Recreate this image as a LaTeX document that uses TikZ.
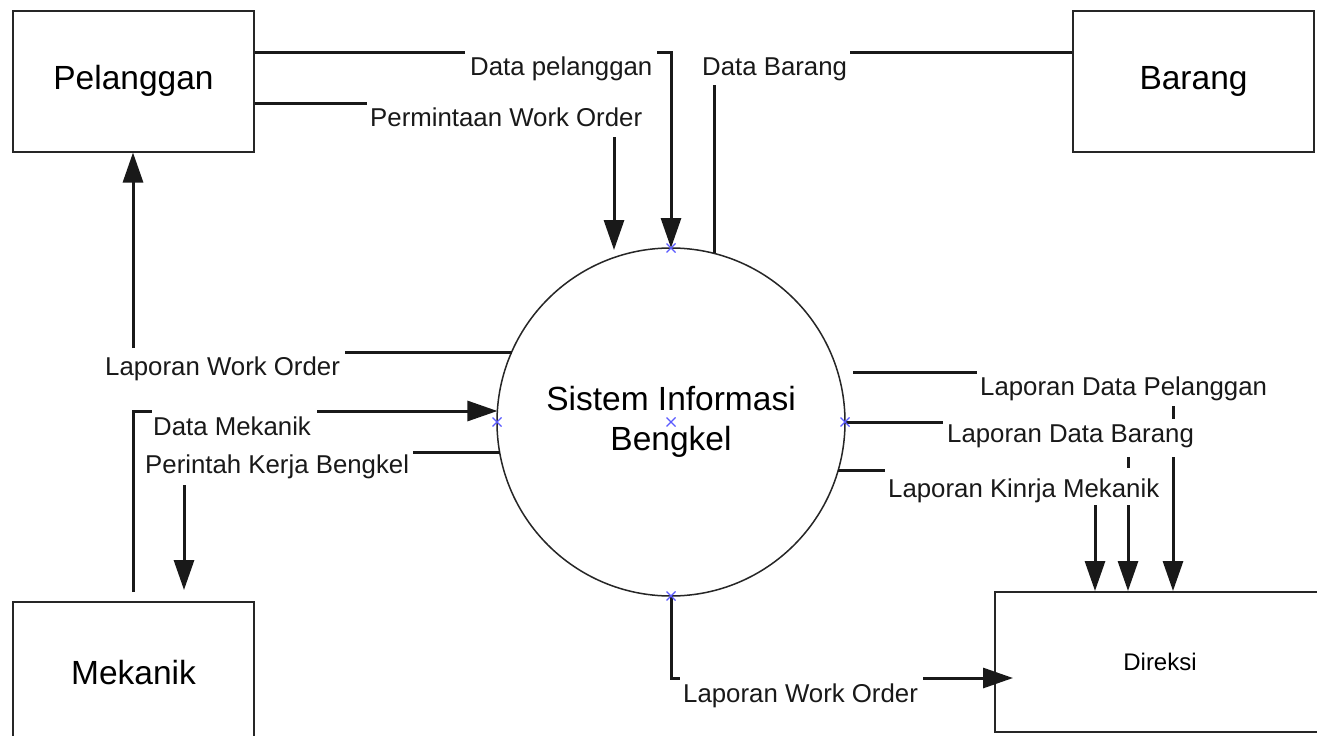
\documentclass[tikz,border=0pt]{standalone}
\usepackage{fontspec}
\setmainfont{Liberation Sans}
\usetikzlibrary{arrows.meta,calc}
\begin{document}
\begin{tikzpicture}[x=1pt,y=-1pt,
  box/.style={draw=black!85, line width=2pt, inner sep=0pt, font=\fontsize{33.5}{40}\selectfont, text=black},
  flow/.style={line width=3pt, draw=black!90},
  arr/.style={flow, -{Triangle[length=30pt,width=20pt]}},
  lbl/.style={anchor=base west, inner sep=0pt, font=\fontsize{25.8}{31}\selectfont, text=black!90},
  xm/.style={draw={rgb,255:red,90;green,90;blue,255}, line width=1.2pt}]
\useasboundingbox (0,0) rectangle (1317,736);
\fill[white] (0,0) rectangle (1317,736);

% entities
\node[box, minimum width=241pt, minimum height=141pt] (pel) at (133.5,81) {Pelanggan};
\node[box, minimum width=241pt, minimum height=141pt] (bar) at (1193.5,81) {Barang};
\node[box, minimum width=241pt, minimum height=141pt] (mek) at (133.5,672.5) {Mekanik};
\node[box, minimum width=330pt, minimum height=140pt, font=\fontsize{24}{29}\selectfont] (dir) at (1160,662) {Direksi};
\node[circle, draw=black!85, line width=1.5pt, minimum size=348pt, inner sep=0pt, outer sep=0pt, align=center,
      font=\fontsize{33.5}{40}\selectfont, text=black] (sys) at (671,422) {Sistem Informasi\\Bengkel};

% labels
\node[lbl] (tDP)   at (470,75)  {Data pelanggan};
\node[lbl] (tPWO)  at (370,126) {Permintaan Work Order};
\node[lbl] (tDB)   at (702,75)  {Data Barang};
\node[lbl] (tLWO1) at (105,375) {Laporan Work Order};
\node[lbl] (tDM)   at (153,435) {Data Mekanik};
\node[lbl] (tPKB)  at (145,473) {Perintah Kerja Bengkel};
\node[lbl] (tLDP)  at (980,395) {Laporan Data Pelanggan};
\node[lbl] (tLDB)  at (947,442) {Laporan Data Barang};
\node[lbl] (tLKM)  at (888,497) {Laporan Kinrja Mekanik};
\node[lbl] (tLWO2) at (683,702) {Laporan Work Order};

% coordinates
\coordinate (dpA) at (465,52);
\coordinate (dpB) at (657,52);
\coordinate (pwA) at (367,103);
\coordinate (pwB) at (614,137);
\coordinate (pwC) at (614,250);
\coordinate (dbA) at (850,52);
\coordinate (dbB) at (714,85);
\coordinate (dbE) at ($(sys.center)+(43,-168.6)$);
\coordinate (lwA) at (345,352);
\coordinate (lwE) at ($(sys.center)+(-159.3,-70)$);
\coordinate (lwB) at (133,348);
\coordinate (dmA) at (152,411);
\coordinate (dmB) at (317,411);
\coordinate (dmC) at (133,592);
\coordinate (dmE) at ($(sys.center)+(-173.6,-11)$);
\coordinate (pkA) at (413,452);
\coordinate (pkE) at ($(sys.center)+(-171.4,30)$);
\coordinate (pkB) at (184,485);
\coordinate (pkC) at (184,590);
\coordinate (ldpA) at (853,372);
\coordinate (ldpB) at (977,372);
\coordinate (ldpT1) at (1173,406);
\coordinate (ldpT2) at (1173,419);
\coordinate (ldpC) at (1173,457);
\coordinate (ldbA) at (943,422);
\coordinate (ldbT1) at (1128,457);
\coordinate (ldbT2) at (1128,468);
\coordinate (ldbC) at (1128,505);
\coordinate (lkA) at (885,470);
\coordinate (lkE) at ($(sys.center)+(167.2,48)$);
\coordinate (lkC) at (1095,505);
\coordinate (bwA) at (680,678);
\coordinate (bwB) at (923,678);
\coordinate (bwC) at (1013,678);

% Data pelanggan
\draw[flow] (pel.east |- dpA) -- (dpA);
\draw[arr] (dpB) -- (sys.north |- dpB) -- (sys.north);
% Permintaan Work Order
\draw[flow] (pel.east |- pwA) -- (pwA);
\draw[arr] (pwB) -- (pwC);
% Data Barang
\draw[flow] (bar.west |- dbA) -- (dbA);
\draw[flow] (dbB) -- (dbE);
% Laporan Work Order (to Pelanggan)
\draw[flow] (lwE) -- (lwA);
\draw[arr] (lwB) -- (lwB |- pel.south);
% Data Mekanik
\draw[flow] (dmC) -- (dmC |- dmA) -- (dmA);
\draw[arr] (dmB) -- (dmE);
% Perintah Kerja Bengkel
\draw[flow] (pkE) -- (pkA);
\draw[arr] (pkB) -- (pkC);
% Laporan Data Pelanggan
\draw[flow] (ldpA) -- (ldpB);
\draw[flow] (ldpT1) -- (ldpT2);
\draw[arr] (ldpC) -- (ldpC |- dir.north);
% Laporan Data Barang
\draw[flow] (sys.east) -- (ldbA);
\draw[flow] (ldbT1) -- (ldbT2);
\draw[arr] (ldbC) -- (ldbC |- dir.north);
% Laporan Kinrja Mekanik
\draw[flow] (lkE) -- (lkA);
\draw[arr] (lkC) -- (lkC |- dir.north);
% Laporan Work Order (to Direksi)
\draw[flow] (sys.south) -- (sys.south |- bwA) -- (bwA);
\draw[arr] (bwB) -- (bwC);

% connection markers
\foreach \a in {north,south,east,west,center}
  \draw[xm] (sys.\a) ++(-4.5,-4.5) -- ++(9,9) ++(-9,0) -- ++(9,-9);
\end{tikzpicture}
\end{document}
